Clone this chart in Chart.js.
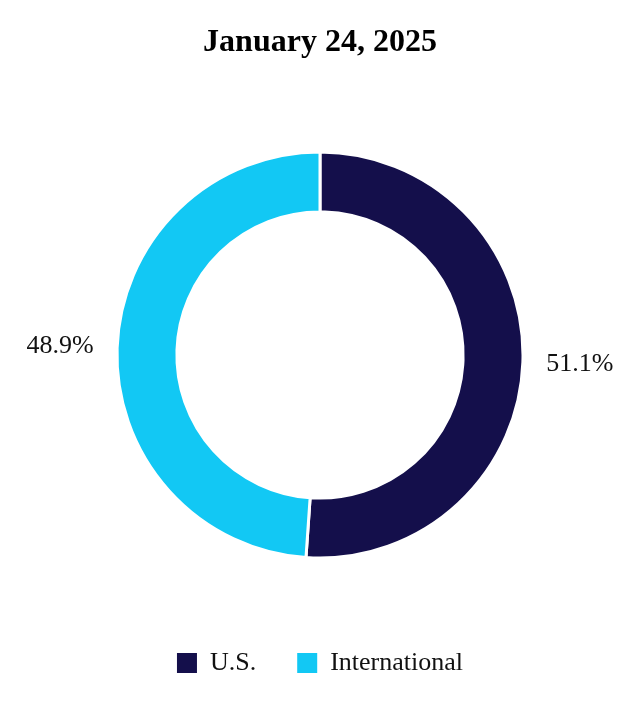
<!DOCTYPE html>
<html>
<head>
<meta charset="utf-8">
<script src="https://cdn.jsdelivr.net/npm/chart.js@4.4.1/dist/chart.umd.min.js"></script>
<style>
  html, body { margin: 0; padding: 0; background: #ffffff; }
  #wrap { width: 640px; height: 720px; position: relative; }
</style>
</head>
<body>
<div id="wrap"><canvas id="c"></canvas></div>
<script>
const titleText = 'January 24, 2025';
const categories = ['U.S.', 'International'];
const shares = [51.1, 48.9];
const sliceColors = ['#140f4b', '#12c8f4'];

const SERIF = '"Liberation Serif", "Times New Roman", Times, serif';

const outerLabels = {
  id: 'outerLabels',
  afterDatasetsDraw(chart) {
    const ctx = chart.ctx;
    const meta = chart.getDatasetMeta(0);
    ctx.save();
    ctx.font = '26px ' + SERIF;
    ctx.fillStyle = '#111111';
    ctx.textAlign = 'center';
    ctx.textBaseline = 'middle';
    meta.data.forEach((arc, i) => {
      const p = arc.getProps(['x', 'y', 'startAngle', 'endAngle', 'outerRadius'], true);
      const mid = (p.startAngle + p.endAngle) / 2;
      const r = p.outerRadius + 57;
      ctx.fillText(shares[i].toFixed(1) + '%', p.x + Math.cos(mid) * r, p.y + Math.sin(mid) * r);
    });
    ctx.restore();
  }
};

new Chart(document.getElementById('c'), {
  type: 'doughnut',
  data: {
    labels: categories,
    datasets: [{
      data: shares,
      backgroundColor: sliceColors,
      borderColor: '#ffffff',
      borderWidth: 3,
      hoverOffset: 0
    }]
  },
  options: {
    responsive: true,
    maintainAspectRatio: false,
    animation: false,
    events: [],
    cutout: '70.5%',
    layout: { padding: { top: 0, bottom: 34, left: 115.5, right: 115.5 } },
    plugins: {
      title: {
        display: true,
        text: titleText,
        color: '#000000',
        font: { family: SERIF, size: 32, weight: 'bold' },
        padding: { top: 24, bottom: 38.6 }
      },
      legend: {
        position: 'bottom',
        labels: {
          color: '#111111',
          font: { family: SERIF, size: 26 },
          boxWidth: 20,
          boxHeight: 20,
          padding: 41,
          generateLabels(chart) {
            const items = Chart.overrides.doughnut.plugins.legend.labels.generateLabels(chart);
            return items.map(it => Object.assign(it, { lineWidth: 0, strokeStyle: 'rgba(0,0,0,0)' }));
          }
        }
      },
      tooltip: { enabled: false }
    }
  },
  plugins: [outerLabels]
});
</script>
</body>
</html>
